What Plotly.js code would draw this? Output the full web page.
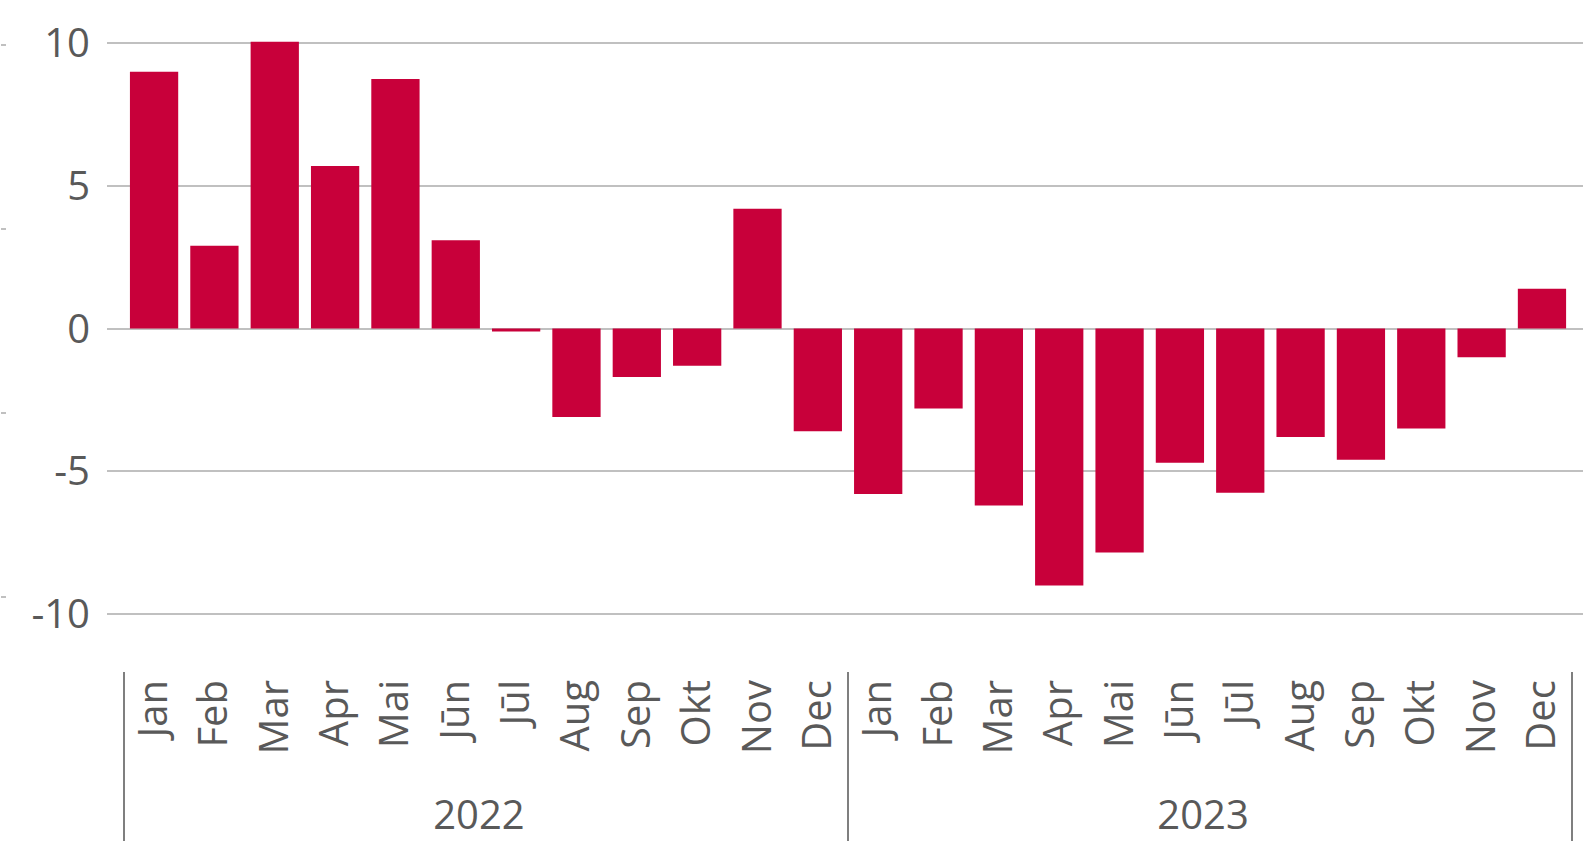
<!DOCTYPE html>
<html>
<head>
<meta charset="utf-8">
<script src="https://cdn.plot.ly/plotly-3.0.1.min.js"></script>
<style>
  html, body { margin: 0; padding: 0; background: #ffffff; }
  #chart { width: 1583px; height: 842px; }
</style>
</head>
<body>
<div id="chart"></div>
<script>
const months = ["Jan", "Feb", "Mar", "Apr", "Mai", "Jūn", "Jūl", "Aug", "Sep", "Okt", "Nov", "Dec"];
const years = ["2022", "2023"];
const values2022 = [9.0, 2.9, 10.05, 5.7, 8.75, 3.1, -0.1, -3.1, -1.7, -1.3, 4.2, -3.6];
const values2023 = [-5.8, -2.8, -6.2, -9.0, -7.85, -4.7, -5.75, -3.8, -4.6, -3.5, -1.0, 1.4];
const leftTickVals = [0, 1, 2, 3];

const xYears = [], xMonths = [], yVals = [];
[values2022, values2023].forEach(function (vals, yi) {
  vals.forEach(function (v, mi) {
    xYears.push(years[yi]);
    xMonths.push(months[mi]);
    yVals.push(v);
  });
});

const textColor = "#595959";
const font = { family: "'Open Sans', 'Segoe UI', sans-serif", size: 40, color: textColor };

const trace = {
  type: "bar",
  x: [xYears, xMonths],
  y: yVals,
  marker: { color: "#C8003A", line: { width: 0 } },
  hoverinfo: "none"
};

const helper = {
  type: "scatter",
  x: [[years[0]], [months[0]]],
  y: [null],
  yaxis: "y2",
  showlegend: false,
  hoverinfo: "none"
};

const layout = {
  width: 1583,
  height: 842,
  margin: { l: 0, r: 0, t: 29, b: 171 },
  paper_bgcolor: "#ffffff",
  plot_bgcolor: "#ffffff",
  showlegend: false,
  bargap: 0.2,
  font: font,
  xaxis: {
    type: "multicategory",
    domain: [107 / 1583, 1],
    range: [-0.78, 23.68],
    tickangle: -90,
    showgrid: false,
    showline: false,
    zeroline: false,
    ticks: "",
    showdividers: true,
    dividercolor: "#7f7f7f",
    dividerwidth: 2,
    tickfont: font
  },
  yaxis: {
    range: [-12, 10.5],
    tickvals: [-10, -5, 0, 5, 10],
    ticktext: ["-10", "-5", "0", "5", "10"],
    showgrid: true,
    gridcolor: "#c0c0c0",
    gridwidth: 2,
    zeroline: true,
    zerolinecolor: "#c0c0c0",
    zerolinewidth: 2,
    showline: false,
    ticks: "",
    ticklabelstandoff: 16,
    tickfont: font
  },
  yaxis2: {
    overlaying: "y",
    anchor: "free",
    position: 0,
    side: "left",
    range: [-0.402, 3.087],
    tickvals: leftTickVals,
    showticklabels: false,
    ticks: "inside",
    ticklen: 5,
    tickwidth: 2,
    tickcolor: "#c0c0c0",
    showgrid: false,
    zeroline: false,
    showline: false
  }
};

Plotly.newPlot("chart", [trace, helper], layout, { displayModeBar: false, staticPlot: true });
</script>
</body>
</html>
